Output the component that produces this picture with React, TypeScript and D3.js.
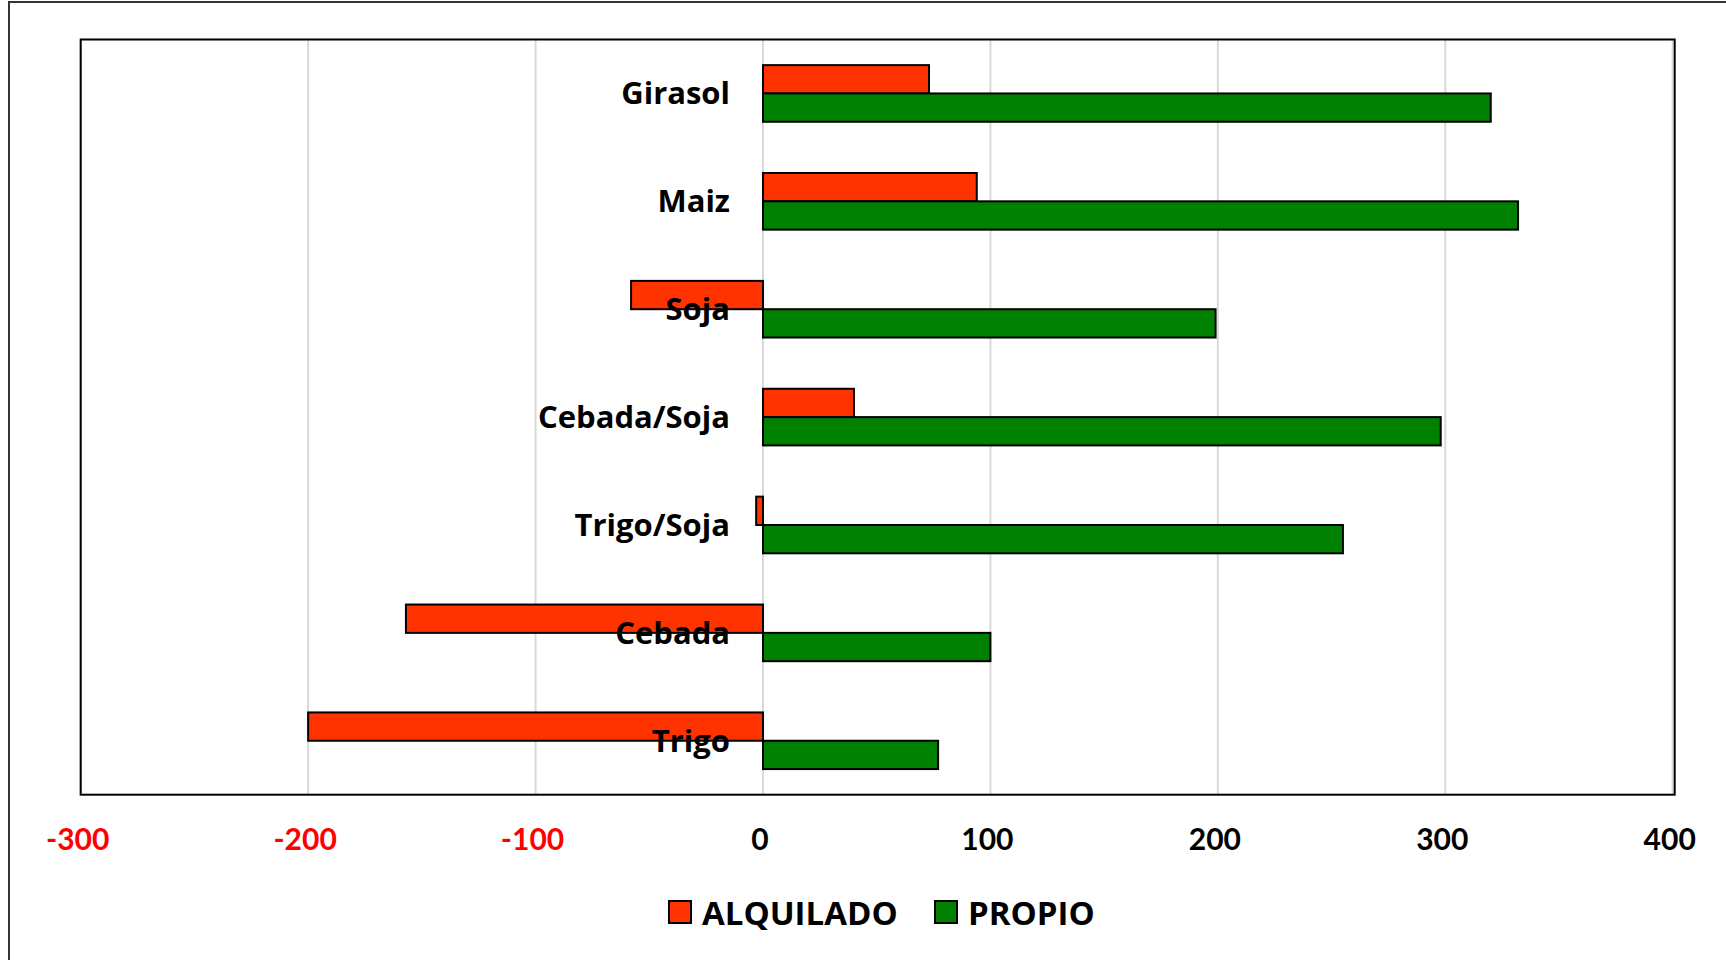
import React, { useRef, useEffect } from 'react';
import * as d3 from 'd3';

// categories top to bottom
const categories = ['Girasol', 'Maiz', 'Soja', 'Cebada/Soja', 'Trigo/Soja', 'Cebada', 'Trigo'];
const alquilado = [73, 94, -58, 40, -3, -157, -200];
const propio = [320, 332, 199, 298, 255, 100, 77];
const seriesNames = ['ALQUILADO', 'PROPIO'];
const seriesColors = ['#FF3300', '#008000'];
const xTicks = [-300, -200, -100, 0, 100, 200, 300, 400];

const App = () => {
  const svgRef = useRef<SVGSVGElement>(null);

  useEffect(() => {
    const width = 1726;
    const height = 960;
    const plot = { left: 80.7, top: 39.5, right: 1674.7, bottom: 794.7 };
    const labelFont = '"Open Sans", Lato, sans-serif';
    const tickFont = 'Lato, "Open Sans", sans-serif';

    const svg = d3.select(svgRef.current);
    svg.selectAll('*').remove();
    svg.attr('width', width).attr('height', height);

    svg.append('rect').attr('width', width).attr('height', height).attr('fill', '#fff');

    // outer chart border (runs off the right / bottom edge)
    svg.append('rect')
      .attr('x', 9).attr('y', 2)
      .attr('width', 1800).attr('height', 1000)
      .attr('fill', 'none').attr('stroke', '#333').attr('stroke-width', 2);

    const x = d3.scaleLinear().domain([-300, 400]).range([plot.left, 1672.7]);

    const y = d3.scaleBand<string>()
      .domain(categories)
      .range([plot.top, plot.bottom])
      .paddingInner(0.475)
      .paddingOuter(0.2375);

    const ySeries = d3.scaleBand<string>()
      .domain(seriesNames)
      .range([0, y.bandwidth()]);

    // gridlines
    svg.append('g')
      .selectAll('line')
      .data(xTicks)
      .join('line')
      .attr('x1', d => x(d)).attr('x2', d => x(d))
      .attr('y1', plot.top).attr('y2', plot.bottom)
      .attr('stroke', '#d9d9d9').attr('stroke-width', 2);

    // bars
    const data = [alquilado, propio];
    data.forEach((vals, si) => {
      svg.append('g')
        .selectAll('rect')
        .data(vals)
        .join('rect')
        .attr('x', d => x(Math.min(0, d)))
        .attr('width', d => Math.abs(x(d) - x(0)))
        .attr('y', (d, i) => (y(categories[i]) as number) + (ySeries(seriesNames[si]) as number))
        .attr('height', ySeries.bandwidth())
        .attr('fill', seriesColors[si])
        .attr('stroke', '#000')
        .attr('stroke-width', 2);
    });

    // plot border
    svg.append('rect')
      .attr('x', plot.left).attr('y', plot.top)
      .attr('width', plot.right - plot.left).attr('height', plot.bottom - plot.top)
      .attr('fill', 'none').attr('stroke', '#000').attr('stroke-width', 2);

    // category labels
    svg.append('g')
      .selectAll('text')
      .data(categories)
      .join('text')
      .attr('x', 730)
      .attr('y', d => (y(d) as number) + y.bandwidth() / 2 + 11)
      .attr('text-anchor', 'end')
      .attr('font-family', labelFont)
      .attr('font-weight', 'bold')
      .attr('font-size', 31)
      .attr('fill', '#000')
      .text(d => d);

    // x tick labels
    svg.append('g')
      .selectAll('text')
      .data(xTicks)
      .join('text')
      .attr('x', d => x(d) - 3)
      .attr('y', 850)
      .attr('text-anchor', 'middle')
      .attr('font-family', tickFont)
      .attr('font-weight', 'bold')
      .attr('font-size', 30)
      .attr('fill', d => (d < 0 ? '#FF0000' : '#000'))
      .text(d => d);

    // legend
    const legendX = [669, 935];
    const legend = svg.append('g');
    seriesNames.forEach((name, i) => {
      legend.append('rect')
        .attr('x', legendX[i]).attr('y', 901)
        .attr('width', 22).attr('height', 22)
        .attr('fill', seriesColors[i])
        .attr('stroke', '#000').attr('stroke-width', 2);
      legend.append('text')
        .attr('x', legendX[i] + 33)
        .attr('y', 925)
        .attr('font-family', labelFont)
        .attr('font-weight', 'bold')
        .attr('font-size', 33)
        .attr('fill', '#000')
        .text(name);
    });
  }, []);

  return (
    <div style={{ position: 'absolute', left: 0, top: 0 }}>
      <svg ref={svgRef} style={{ display: 'block' }}></svg>
    </div>
  );
};

export default App;
